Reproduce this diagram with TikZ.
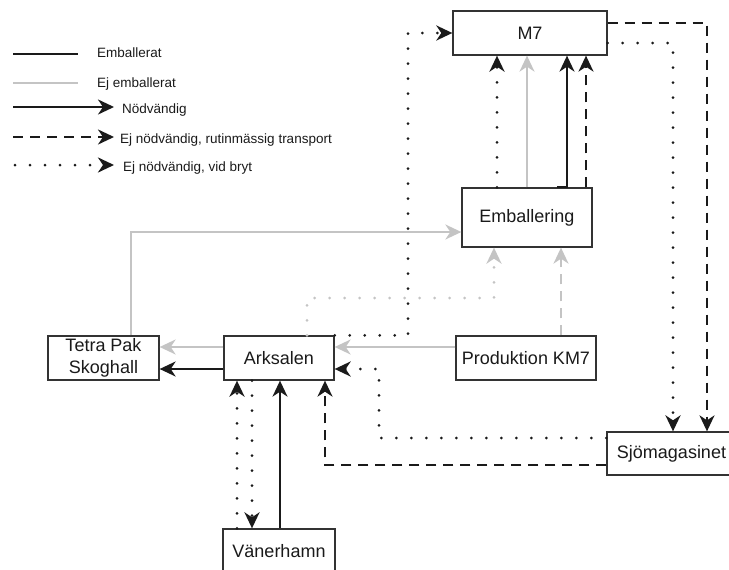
\documentclass[tikz,border=0pt]{standalone}
\usepackage{fontspec}
\setmainfont{Liberation Sans}
\usetikzlibrary{arrows.meta}
\definecolor{ink}{HTML}{1A1A1A}
\definecolor{lightgrey}{HTML}{C4C4C4}
\definecolor{boxline}{HTML}{333333}
\tikzset{
  box/.style={draw=boxline, line width=1.3pt, fill=white, inner sep=0pt, text=ink,
    font=\fontsize{18}{22}\selectfont, align=center},
  tip/.style={-{Stealth[length=16pt,width=15pt,inset=5pt]}},
  heavy/.style={draw=ink, line width=2.2pt},
  light/.style={draw=lightgrey, line width=2.2pt},
  dashline/.style={dash pattern=on 10pt off 7pt},
  dotline/.style={dash pattern=on 0pt off 15pt, line cap=round, line width=3pt},
  legendtext/.style={anchor=base west, inner sep=0pt, text=ink, font=\fontsize{13.5}{15}\selectfont},
}
\begin{document}
\begin{tikzpicture}[x=1pt,y=-1pt]
\useasboundingbox (0,0) rectangle (729,570);
\clip (0,0) rectangle (729,570);

% legend
\draw[heavy, line width=2.5pt] (13,54) -- (78,54);
\node[legendtext] (lgA) at (97,57) {Emballerat};
\draw[light, line width=2.5pt] (13,83) -- (78,83);
\node[legendtext] (lgB) at (97,87) {Ej emballerat};
\draw[heavy, line width=2.5pt, tip] (13,107) -- (114,107);
\node[legendtext] (lgC) at (122,113) {Nödvändig};
\draw[heavy, line width=2.5pt, dashline, tip] (13,137) -- (114,137);
\node[legendtext] (lgD) at (120,143) {Ej nödvändig, rutinmässig transport};
\draw[heavy, dotline, tip] (15,165) -- (114,165);
\node[legendtext] (lgE) at (123,171) {Ej nödvändig, vid bryt};

% boxes
\node[box, minimum width=154pt, minimum height=44pt] (m7)   at (530,33)    {M7};
\node[box, minimum width=130pt, minimum height=59pt] (emb)  at (527,217.5) {Emballering};
\node[box, minimum width=140pt, minimum height=44pt] (prod) at (526,358)   {Produktion KM7};
\node[box, minimum width=110pt, minimum height=44pt] (ark)  at (279,358)   {Arksalen};
\node[box, minimum width=111pt, minimum height=44pt] (tetra) at (103.5,358) {Tetra Pak\\Skoghall};
\node[box, minimum width=129pt, minimum height=43pt] (sjo)  at (671.5,453.5) {Sjömagasinet};
\node[box, minimum width=112pt, minimum height=44pt] (van)  at (279,551)   {Vänerhamn};

% flows out of Arksalen towards Tetra Pak
\draw[light, tip] (ark.west |- 0,347) -- (tetra.east |- 0,347);
\draw[heavy, tip] (ark.west |- 0,369) -- (tetra.east |- 0,369);
% Produktion KM7
\draw[light, tip] (prod.west |- 0,347) -- (ark.east |- 0,347);
\draw[light, dashline, tip] (prod.north -| 561,0) -- (emb.south -| 561,0);
% into Emballering
\draw[light, dotline, tip] (ark.north -| 307,0) -- (307,298) -- (494,298) -- (emb.south -| 494,0);
\draw[light, tip] (tetra.north -| 131,0) |- (emb.west |- 0,232);
% Arksalen to M7
\draw[heavy, dotline, tip] (ark.north east) -| (m7.west -| 408,0) -- (m7.west);
% Emballering to M7
\draw[heavy, dotline, tip] (emb.north -| 497,0) -- (m7.south -| 497,0);
\draw[light, tip] (emb.north -| 527,0) -- (m7.south -| 527,0);
\draw[heavy, tip] (emb.north -| 557,0) -| (m7.south -| 567,0);
\draw[heavy, dashline, tip] (emb.north -| 586,0) -- (m7.south -| 586,0);
% M7 to Sjömagasinet
\draw[heavy, dashline, tip] (m7.east |- 0,23) -| (sjo.north -| 707,0);
\draw[heavy, dotline, tip] (m7.east |- 0,43) -| (sjo.north -| 673,0);
% Sjömagasinet back to Arksalen
\draw[heavy, dotline, tip] (sjo.west |- 0,438) -| (379,369) -- (ark.east |- 0,369);
\draw[heavy, dashline, tip] (sjo.west |- 0,465) -| (ark.south -| 325,0);
% Vänerhamn
\draw[heavy, tip] (van.north -| 280,0) -- (ark.south -| 280,0);
\draw[heavy, dotline, tip] (ark.south -| 252,0) -- (van.north -| 252,0);
\draw[heavy, dotline, tip] (van.north -| 237,0) -- (ark.south -| 237,0);
\end{tikzpicture}
\end{document}
